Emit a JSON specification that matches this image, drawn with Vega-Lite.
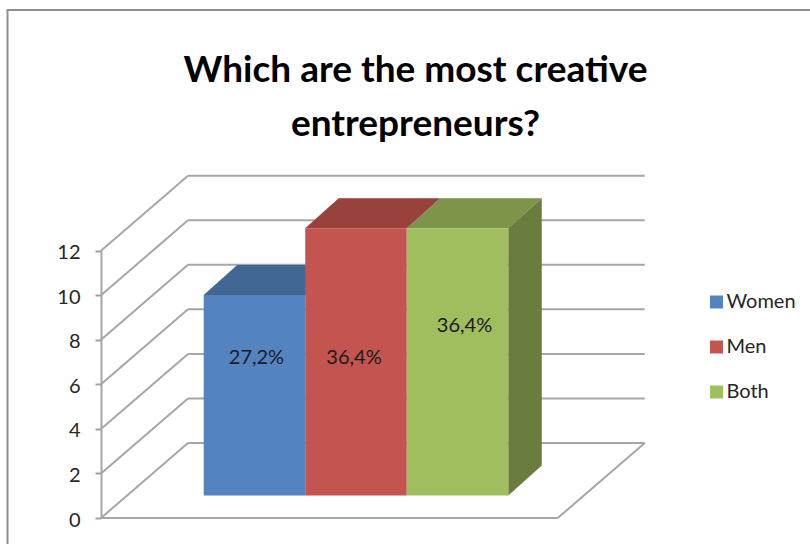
{
  "$schema": "https://vega.github.io/schema/vega-lite/v6.json",
  "autosize": "none",
  "padding": {"left": 7.5, "top": 10, "right": 0, "bottom": 0},
  "width": 820,
  "height": 600,
  "background": "white",
  "view": {"stroke": "#8f8f8f", "strokeWidth": 2, "fill": "white"},
  "title": {
    "text": ["Which are the most creative", "entrepreneurs?"],
    "anchor": "middle",
    "baseline": "top",
    "dy": 138,
    "dx": -2,
    "font": "Lato",
    "fontWeight": "bold",
    "fontSize": 37,
    "lineHeight": 54,
    "color": "#000000"
  },
  "datasets": {
    "answers": [
      {"category": "Women", "value": 9, "label": "27,2%"},
      {"category": "Men", "value": 12, "label": "36,4%"},
      {"category": "Both", "value": 12, "label": "36,4%"}
    ],
    "ticks": [{"tick": 0}, {"tick": 2}, {"tick": 4}, {"tick": 6}, {"tick": 8}, {"tick": 10}, {"tick": 12}]
  },
  "resolve": {"scale": {"x": "independent"}},
  "layer": [
    {
      "description": "Side wall: slanted grid lines running back from the value axis",
      "data": {"name": "ticks"},
      "mark": {"type": "rule", "color": "#a6a6a6", "strokeWidth": 2, "y2Offset": -75},
      "encoding": {
        "x": {"datum": 0, "type": "quantitative", "axis": null, "scale": {"domain": [0, 1], "range": [93.5, 180.5]}},
        "x2": {"datum": 1},
        "y": {
          "field": "tick",
          "type": "quantitative",
          "scale": {"domain": [0, 12], "range": [508, 240.7]},
          "axis": {
            "title": null,
            "values": [0, 2, 4, 6, 8, 10, 12],
            "offset": -93.5,
            "grid": false,
            "tickSize": 6,
            "tickWidth": 2,
            "tickColor": "#a0a0a0",
            "domainColor": "#a6a6a6",
            "domainWidth": 2,
            "labelFont": "Lato",
            "labelFontSize": 20,
            "labelColor": "#262626",
            "labelPadding": 15,
            "labelOffset": 2
          }
        },
        "y2": {"field": "tick"}
      }
    },
    {
      "description": "Back wall: horizontal grid lines",
      "data": {"name": "ticks"},
      "mark": {"type": "rule", "color": "#a6a6a6", "strokeWidth": 2, "yOffset": -75},
      "encoding": {
        "x": {"datum": 1, "type": "quantitative", "axis": null, "scale": {"domain": [0, 1], "range": [93.5, 180.5]}},
        "x2": {"datum": 6.25},
        "y": {"field": "tick", "type": "quantitative"}
      }
    },
    {
      "description": "Floor: front edge",
      "data": {"name": "ticks"},
      "transform": [{"filter": "datum.tick === 0"}],
      "mark": {"type": "rule", "color": "#a6a6a6", "strokeWidth": 2},
      "encoding": {
        "x": {"datum": 0, "type": "quantitative", "axis": null, "scale": {"domain": [0, 1], "range": [93.5, 180.5]}},
        "x2": {"datum": 5.25},
        "y": {"field": "tick", "type": "quantitative"}
      }
    },
    {
      "description": "Floor: right edge",
      "data": {"name": "ticks"},
      "transform": [{"filter": "datum.tick === 0"}],
      "mark": {"type": "rule", "color": "#a6a6a6", "strokeWidth": 2, "y2Offset": -75},
      "encoding": {
        "x": {"datum": 5.25, "type": "quantitative", "axis": null, "scale": {"domain": [0, 1], "range": [93.5, 180.5]}},
        "x2": {"datum": 6.25},
        "y": {"field": "tick", "type": "quantitative"},
        "y2": {"field": "tick"}
      }
    },
    {
      "description": "Top faces of the columns, base colour",
      "data": {"name": "answers"},
      "mark": {
        "type": "point",
        "filled": true,
        "opacity": 1,
        "size": 4,
        "strokeWidth": 0,
        "yOffset": -22.5,
        "shape": "M0,0 L101.5,0 L135,-30 L33.5,-30 Z"
      },
      "encoding": {
        "x": {"field": "category", "type": "nominal", "bandPosition": 0, "axis": null, "sort": null,
          "scale": {"type": "band", "domain": ["Women", "Men", "Both"], "range": [196.2, 500.8], "paddingInner": 0, "paddingOuter": 0}},
        "y": {"field": "value", "type": "quantitative"},
        "color": {
          "field": "category",
          "type": "nominal",
          "scale": {"domain": ["Women", "Men", "Both"], "range": ["#5484bf", "#c4544f", "#a0be5e"]},
          "legend": {
            "title": null,
            "orient": "none",
            "legendX": 699,
            "legendY": 282,
            "symbolType": "square",
            "symbolSize": 169,
            "symbolStrokeWidth": 0,
            "symbolOpacity": 1,
            "labelFont": "Lato",
            "labelFontSize": 20,
            "labelColor": "#262626",
            "labelOffset": 0,
            "rowPadding": 25
          }
        }
      }
    },
    {
      "description": "Shade over the top faces",
      "data": {"name": "answers"},
      "mark": {
        "type": "point",
        "filled": true,
        "opacity": 0.22,
        "size": 4,
        "strokeWidth": 0,
        "yOffset": -22.5,
        "color": "#000000",
        "shape": "M0,0 L101.5,0 L135,-30 L33.5,-30 Z"
      },
      "encoding": {
        "x": {"field": "category", "type": "nominal", "bandPosition": 0, "axis": null, "sort": null,
          "scale": {"type": "band", "domain": ["Women", "Men", "Both"], "range": [196.2, 500.8], "paddingInner": 0, "paddingOuter": 0}},
        "y": {"field": "value", "type": "quantitative"}
      }
    },
    {
      "description": "Right-hand face of the last column",
      "data": {"name": "answers"},
      "transform": [{"filter": "datum.category === 'Both'"}],
      "mark": {
        "type": "point",
        "filled": true,
        "opacity": 1,
        "size": 4,
        "strokeWidth": 0,
        "yOffset": -22.5,
        "color": "#6b7d3e",
        "shape": "M101.5,0 L135,-30 L135,237.4 L101.5,267.4 Z"
      },
      "encoding": {
        "x": {"field": "category", "type": "nominal", "bandPosition": 0, "axis": null, "sort": null,
          "scale": {"type": "band", "domain": ["Women", "Men", "Both"], "range": [196.2, 500.8], "paddingInner": 0, "paddingOuter": 0}},
        "y": {"field": "value", "type": "quantitative"}
      }
    },
    {
      "description": "Front faces of the columns",
      "data": {"name": "answers"},
      "mark": {"type": "bar", "yOffset": -22.5, "y2Offset": -22.5},
      "encoding": {
        "x": {"field": "category", "type": "nominal", "axis": null, "sort": null,
          "scale": {"type": "band", "domain": ["Women", "Men", "Both"], "range": [196.2, 500.8], "paddingInner": 0, "paddingOuter": 0}},
        "y": {"field": "value", "type": "quantitative"},
        "y2": {"datum": 0},
        "color": {"field": "category", "type": "nominal"}
      }
    },
    {
      "description": "Percentage on the Women column",
      "data": {"name": "answers"},
      "transform": [{"filter": "datum.category === 'Women'"}],
      "mark": {"type": "text", "font": "Lato", "fontSize": 20, "color": "#1a1a2a", "dx": 2},
      "encoding": {
        "x": {"field": "category", "type": "nominal", "axis": null, "sort": null,
          "scale": {"type": "band", "domain": ["Women", "Men", "Both"], "range": [196.2, 500.8], "paddingInner": 0, "paddingOuter": 0}},
        "y": {"datum": 7.18, "type": "quantitative"},
        "text": {"field": "label"}
      }
    },
    {
      "description": "Percentage on the Men column",
      "data": {"name": "answers"},
      "transform": [{"filter": "datum.category === 'Men'"}],
      "mark": {"type": "text", "font": "Lato", "fontSize": 20, "color": "#1a1a1a", "dx": -2},
      "encoding": {
        "x": {"field": "category", "type": "nominal", "axis": null, "sort": null,
          "scale": {"type": "band", "domain": ["Women", "Men", "Both"], "range": [196.2, 500.8], "paddingInner": 0, "paddingOuter": 0}},
        "y": {"datum": 7.18, "type": "quantitative"},
        "text": {"field": "label"}
      }
    },
    {
      "description": "Percentage on the Both column",
      "data": {"name": "answers"},
      "transform": [{"filter": "datum.category === 'Both'"}],
      "mark": {"type": "text", "font": "Lato", "fontSize": 20, "color": "#1a1a1a", "dx": 7},
      "encoding": {
        "x": {"field": "category", "type": "nominal", "axis": null, "sort": null,
          "scale": {"type": "band", "domain": ["Women", "Men", "Both"], "range": [196.2, 500.8], "paddingInner": 0, "paddingOuter": 0}},
        "y": {"datum": 8.62, "type": "quantitative"},
        "text": {"field": "label"}
      }
    }
  ]
}
